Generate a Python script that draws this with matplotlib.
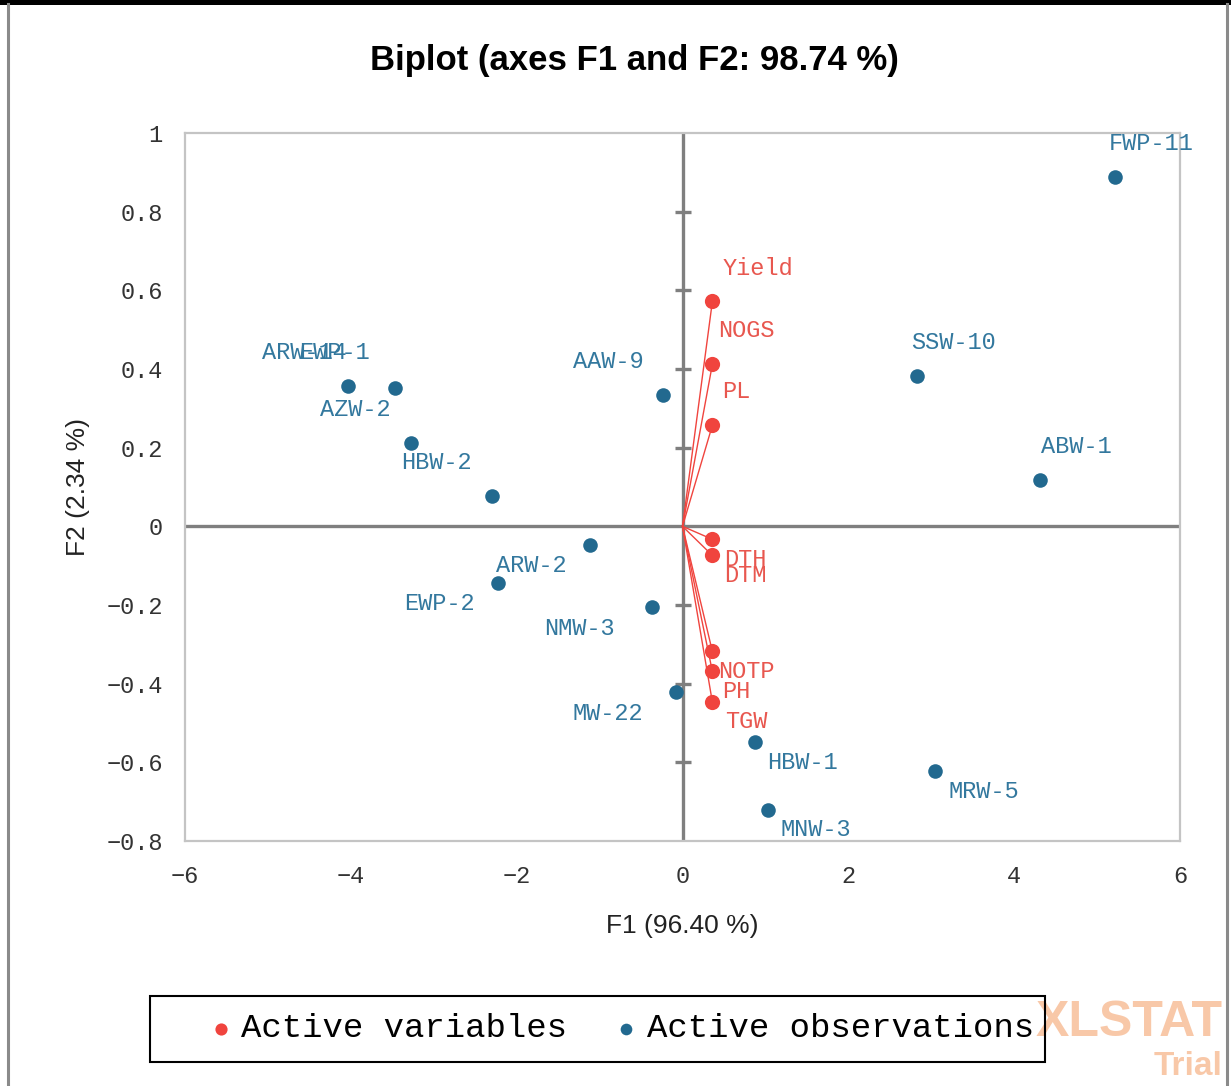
import matplotlib
matplotlib.use('Agg')
import matplotlib.pyplot as plt
from matplotlib.lines import Line2D
from matplotlib.patches import Rectangle
import numpy as np

# DATA
obs_names = ['FWP-11', 'SSW-10', 'ABW-1', 'AAW-9', 'ARW-14', 'EWP-1', 'AZW-2', 'HBW-2',
             'ARW-2', 'EWP-2', 'NMW-3', 'MW-22', 'HBW-1', 'MRW-5', 'MNW-3']
obs_f1 = [5.22, 2.83, 4.31, -0.23, -4.03, -3.47, -3.28, -2.30,
          -1.12, -2.23, -0.37, -0.08, 0.87, 3.05, 1.03]
obs_f2 = [0.887, 0.381, 0.117, 0.333, 0.356, 0.351, 0.211, 0.076,
          -0.048, -0.145, -0.206, -0.422, -0.549, -0.623, -0.720]

var_names = ['Yield', 'NOGS', 'PL', 'DTH', 'DTM', 'NOTP', 'PH', 'TGW']
var_f1 = [0.36, 0.36, 0.36, 0.36, 0.36, 0.36, 0.36, 0.36]
var_f2 = [0.572, 0.412, 0.257, -0.033, -0.074, -0.318, -0.369, -0.447]

x_ticks = [-6, -4, -2, 0, 2, 4, 6]
y_ticks = [-0.8, -0.6, -0.4, -0.2, 0, 0.2, 0.4, 0.6, 0.8, 1]

# label placement (pixel offsets from the marker)
UL, LL, UR, LR = (-55, 34), (-58, -20), (36, 34), (48, -20)
obs_offsets = [UR, UR, UR, UL, (-44, 34), (-60, 36), UL, UL,
               LL, LL, (-72, -21), (-68, -21), LR, LR, LR]
var_offsets = [(46, 33), (34, 34), (24, 34), (33, -20), (33, -20), (34, -20), (24, -20), (34, -19)]

BLUE = '#22698f'
BLUE_TXT = '#33789e'
RED = '#f0443e'
RED_TXT = '#e8574f'
MONO = 'Liberation Mono'

fig = plt.figure(figsize=(12.31, 10.86), dpi=100)
ax = fig.add_axes([0.1503, 0.2256, 0.8083, 0.6519])

ax.set_xlim(-6, 6)
ax.set_ylim(-0.8, 1)
ax.set_xticks(x_ticks)
ax.set_yticks(y_ticks)
ax.set_xticklabels([str(t).replace('-', '\u2212') for t in x_ticks], family=MONO, fontsize=17)
ax.set_yticklabels([('%g' % t).replace('-', '\u2212') for t in y_ticks], family=MONO, fontsize=17)
ax.tick_params(length=0, colors='#333333')
ax.tick_params(axis='y', pad=16)
ax.tick_params(axis='x', pad=17)
for s in ax.spines.values():
    s.set_color('#c4c4c4')
    s.set_linewidth(1.6)

# zero axes
ax.axhline(0, color='#7f7f7f', lw=2.4, zorder=1)
ax.axvline(0, color='#7f7f7f', lw=2.4, zorder=1)
inner = [t for t in y_ticks if t not in (0, -0.8, 1)]
ax.plot(np.zeros(len(inner)), inner, ls='none', marker='_', ms=11, mew=2.4,
        color='#7f7f7f', zorder=1)

# variable vectors
for x, y in zip(var_f1, var_f2):
    ax.plot([0, x], [0, y], color=RED, lw=1.0, zorder=2)
var_sc = ax.scatter(var_f1, var_f2, s=120, color=RED, zorder=3, linewidths=0,
                    label='Active variables')
obs_sc = ax.scatter(obs_f1, obs_f2, s=110, color=BLUE, zorder=3, linewidths=0,
                    label='Active observations')

for name, x, y, off in zip(obs_names, obs_f1, obs_f2, obs_offsets):
    ax.annotate(name, (x, y), xytext=off, textcoords='offset pixels',
                ha='center', va='center', family=MONO, fontsize=17,
                color=BLUE_TXT, zorder=4)
for name, x, y, off in zip(var_names, var_f1, var_f2, var_offsets):
    ax.annotate(name, (x, y), xytext=off, textcoords='offset pixels',
                ha='center', va='center', family=MONO, fontsize=17,
                color=RED_TXT, zorder=4)

fig.text(0.5155, 0.944, 'Biplot (axes F1 and F2: 98.74 %)', ha='center', va='center',
         family=['Liberation Sans Narrow', 'Liberation Sans'], weight='bold', fontsize=25)
ax.set_xlabel('F1 (96.40 %)', family='Liberation Sans', fontsize=19, labelpad=19, color='#222222')
ax.set_ylabel('F2 (2.34 %)', family='Liberation Sans', fontsize=19, labelpad=12, color='#222222')

# legend with its frame drawn separately (wide side margins)
leg = fig.legend(handles=[var_sc, obs_sc], loc='center', bbox_to_anchor=(0.5075, 0.0525),
                 ncol=2, frameon=False, markerscale=0.8,
                 prop={'family': MONO, 'size': 24.5}, handlelength=0.3,
                 handletextpad=0.45, columnspacing=1.6)
fig.add_artist(Rectangle((0.1219, 0.0221), 0.7271, 0.0608, transform=fig.transFigure,
                         fill=False, edgecolor='black', lw=1.5))

# watermark
fig.text(0.9935, 0.058, 'XLSTAT', ha='right', va='center', family='Liberation Sans',
         weight='bold', fontsize=36, color='#f8c29f', alpha=0.9, zorder=0)
fig.text(0.9935, 0.018, 'Trial', ha='right', va='center', family='Liberation Sans',
         weight='bold', fontsize=24, color='#f8c29f', alpha=0.9, zorder=0)

# window frame
fig.add_artist(Rectangle((0, 0.9955), 1, 0.0045, transform=fig.transFigure,
                         color='black', lw=0))
fig.add_artist(Line2D([0.0065, 0.0065], [0, 0.996], transform=fig.transFigure,
                      color='#8a8a8a', lw=2.2))
fig.add_artist(Line2D([0.9965, 0.9965], [0, 0.996], transform=fig.transFigure,
                      color='#8a8a8a', lw=2.2))

fig.savefig('out.png', dpi=100)
